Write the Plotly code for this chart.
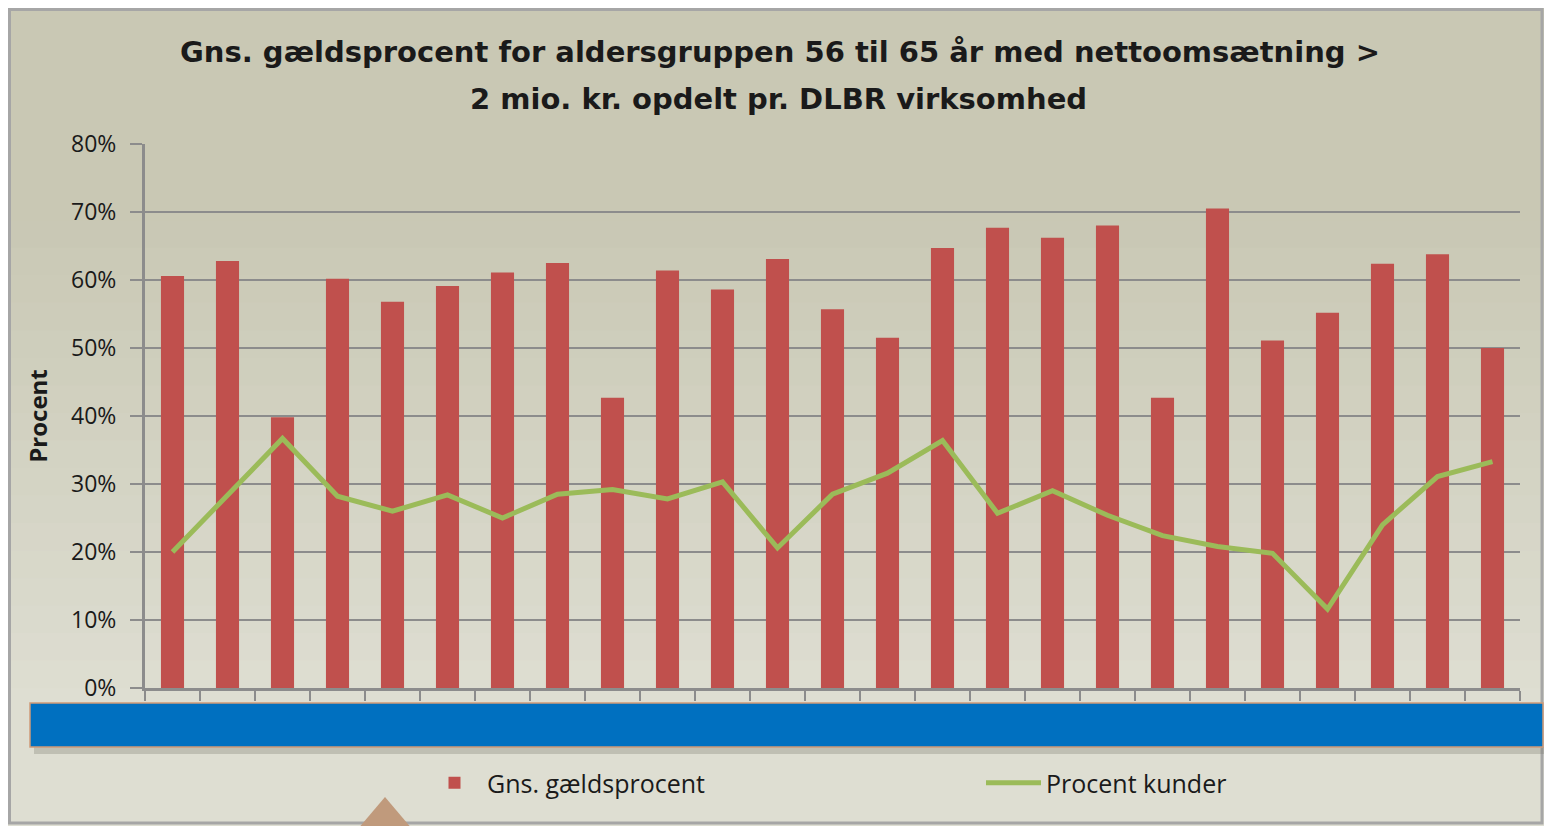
import plotly.graph_objects as go

# ---- data ----
virksomheder = ["1", "2", "3", "4", "5", "6", "7", "8", "9", "10", "11", "12", "13",
                "14", "15", "16", "17", "18", "19", "20", "21", "22", "23", "24", "25"]
gaeldsprocent = [60.6, 62.8, 39.8, 60.2, 56.8, 59.1, 61.1, 62.5, 42.7, 61.4, 58.6, 63.1, 55.7,
                 51.5, 64.7, 67.7, 66.2, 68.0, 42.7, 70.5, 51.1, 55.2, 62.4, 63.8, 50.0]
procent_kunder = [20.0, 28.4, 36.7, 28.2, 26.0, 28.4, 25.0, 28.5, 29.2, 27.8, 30.3, 20.6, 28.5,
                  31.6, 36.4, 25.7, 29.0, 25.4, 22.4, 20.8, 19.8, 11.6, 24.0, 31.1, 33.3]
y_ticks = [0, 10, 20, 30, 40, 50, 60, 70, 80]
y_tick_labels = ["0%", "10%", "20%", "30%", "40%", "50%", "60%", "70%", "80%"]
title_line1 = "Gns. gældsprocent for aldersgruppen 56 til 65 år med nettoomsætning >"
title_line2 = "2 mio. kr. opdelt pr. DLBR virksomhed"

OFF = 8                      # page body margin
PAGE_W, PAGE_H = 1552, 826
W, H = PAGE_W - OFF, PAGE_H - OFF
L, R, T, B = 145 - OFF, 32, 144 - OFF, 138
PW, PH = W - L - R, H - T - B
FONT = "Open Sans"
TFONT = "DejaVu Sans"


def px(x):  # page pixel -> paper x
    return (x - OFF - L) / PW


def py(y):  # page pixel -> paper y
    return (H - B - (y - OFF)) / PH


fig = go.Figure()
fig.add_trace(go.Bar(x=virksomheder, y=gaeldsprocent, name="Gns. gældsprocent",
                     marker=dict(color="#C0504D", line=dict(width=0)), legend="legend"))
fig.add_trace(go.Scatter(x=virksomheder, y=procent_kunder, name="Procent kunder", mode="lines",
                         line=dict(color="#9BBB59", width=5), legend="legend2"))

shapes = []
# background gradient
top_c = (0xC9, 0xC8, 0xB4)
bot_c = (0xDE, 0xDE, 0xD2)
n = 30
for i in range(n):
    f = i / (n - 1)
    c = tuple(int(top_c[k] + (bot_c[k] - top_c[k]) * min(1, max(0, (f - 0.25) / 0.6))) for k in range(3))
    y0 = i * PAGE_H / n
    y1 = (i + 1) * PAGE_H / n + 1
    shapes.append(dict(type="rect", xref="paper", yref="paper", x0=px(0), x1=px(PAGE_W + 5),
                       y0=py(y1), y1=py(y0), fillcolor="rgb(%d,%d,%d)" % c,
                       line=dict(width=0), layer="below"))
# outer border
shapes.append(dict(type="rect", xref="paper", yref="paper", x0=px(9.5), x1=px(1542),
                   y0=py(823), y1=py(9.5), line=dict(color="#A6A6A6", width=3),
                   fillcolor="rgba(0,0,0,0)", layer="above"))
# shadow under blue band
shapes.append(dict(type="rect", xref="paper", yref="paper", x0=px(34), x1=px(1550),
                   y0=py(754), y1=py(747), fillcolor="rgba(120,120,110,0.3)",
                   line=dict(width=0), layer="above"))
# blue band
shapes.append(dict(type="rect", xref="paper", yref="paper", x0=px(30), x1=px(1543),
                   y0=py(747), y1=py(703), fillcolor="#0070C0",
                   line=dict(color="#D09A78", width=1.5), layer="above"))
# triangle
shapes.append(dict(type="path", xref="paper", yref="paper",
                   path="M %f,%f L %f,%f L %f,%f Z" % (px(385), py(797), px(357), py(830), px(413), py(830)),
                   fillcolor="#C09A7C", line=dict(width=0), layer="above"))

legend_common = dict(orientation="h", yanchor="middle", xanchor="left",
                     font=dict(family=FONT, size=25, color="#1A1A1A"),
                     itemwidth=55, bgcolor="rgba(0,0,0,0)")

fig.update_layout(
    width=W, height=H,
    margin=dict(l=L, r=R, t=T, b=B),
    paper_bgcolor="#D4D3C2",
    plot_bgcolor="white",
    title=dict(text=title_line1,
               x=(780 - OFF) / W, xref="container", xanchor="center", y=1 - (52 - OFF) / H, yanchor="middle",
               font=dict(family=TFONT, size=29, color="#1A1A1A", weight="bold")),
    annotations=[dict(text=title_line2, xref="paper", yref="paper", x=px(778), y=py(99),
                      xanchor="center", yanchor="middle", showarrow=False,
                      font=dict(family=TFONT, size=29, color="#1A1A1A", weight="bold"))],
    bargap=0.58,
    shapes=shapes,
    showlegend=True,
    legend=dict(x=px(422), y=py(783), **legend_common),
    legend2=dict(x=px(981), y=py(783), **legend_common),
    xaxis=dict(type="category", showticklabels=False, showgrid=False,
               ticks="outside", tickson="boundaries", ticklen=10, tickwidth=2, tickcolor="#8C8C8C",
               showline=True, linecolor="#8C8C8C", linewidth=3, range=[-0.5, 24.5]),
    yaxis=dict(range=[0, 80], tickvals=y_ticks, ticktext=y_tick_labels,
               tickfont=dict(family=FONT, size=23, color="#1A1A1A"),
               ticks="outside", ticklen=12, tickwidth=2, tickcolor="#8C8C8C",
               ticklabelstandoff=9,
               showgrid=True, gridcolor="#8C8C8C", gridwidth=2,
               showline=True, linecolor="#8C8C8C", linewidth=3,
               zeroline=False,
               title=dict(text="Procent", standoff=17,
                          font=dict(family=FONT, size=24, color="#1A1A1A", weight="bold"))),
)

fig.write_html("out.html")
